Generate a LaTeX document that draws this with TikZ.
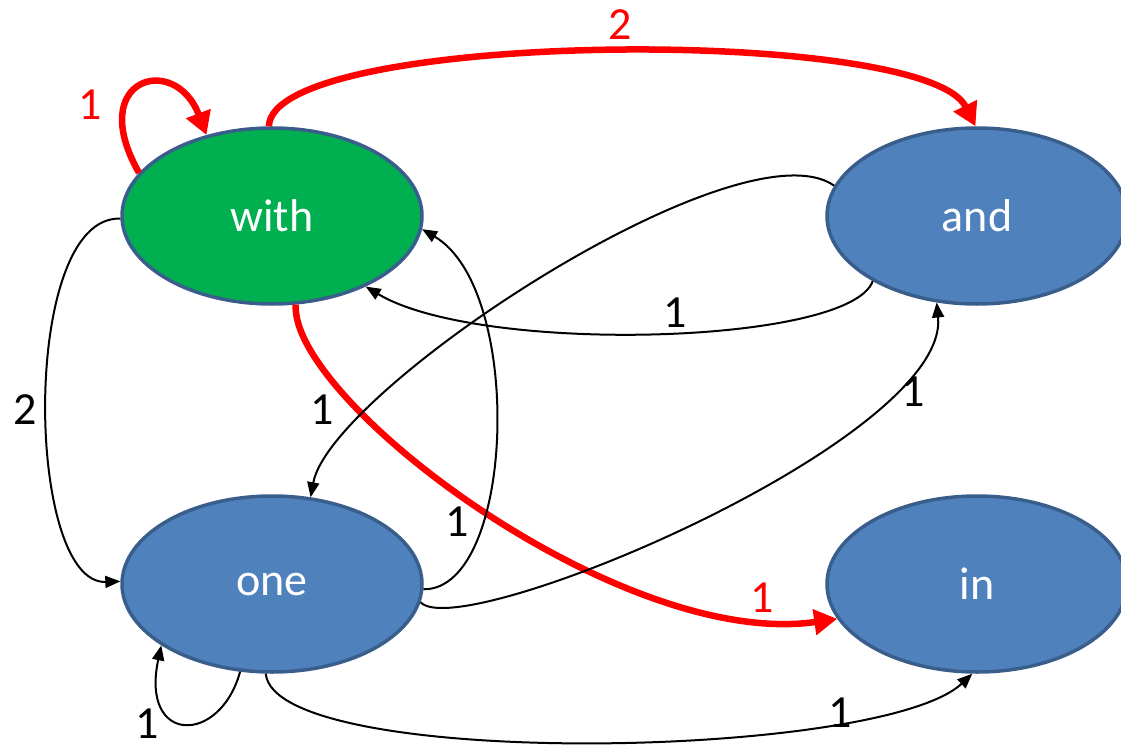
\documentclass[tikz,border=0pt]{standalone}
\usepackage{fontspec}
\setmainfont{Carlito}
\usetikzlibrary{shapes.geometric,arrows.meta}
\definecolor{stgreen}{HTML}{00B050}
\definecolor{stblue}{HTML}{4F81BD}
\definecolor{stborder}{HTML}{3A5E8C}
\definecolor{stred}{HTML}{FF0000}
\tikzset{
  state/.style={ellipse, draw=stborder, line width=3.5pt, fill=stblue, text=white,
    minimum width=300pt, minimum height=176pt, inner sep=0pt,
    font=\fontsize{46}{50}\selectfont},
  startstate/.style={state, fill=stgreen},
  blackedge/.style={draw=black, line width=2pt, -{Triangle[length=15pt,width=12pt]}},
  rededge/.style={draw=stred, line width=6.5pt, -{Triangle[length=23pt,width=25pt]}},
  lbl/.style={font=\fontsize{46}{50}\selectfont, inner sep=0pt, text=black},
  redlbl/.style={lbl, text=stred}
}
\begin{document}
\begin{tikzpicture}[x=1pt,y=-1pt]
\useasboundingbox (0,0) rectangle (1121,749);
\clip (0,0) rectangle (1121,749);

\node[startstate] (with) at (272,216) {with};
\node[state] (and) at (977,216) {and};
\node[state] (one) at (272,584) {one};
\node[state] (in) at (977,584) {in};

% red edges
\draw[rededge] (with.162) .. controls (85,78) and (175,52) .. (with.129);
\draw[rededge] (with.92.6) .. controls (272,30) and (925,25) .. (and.91);
\draw[rededge] (with.285) .. controls (290,400) and (620,650) .. (in.194);

% black edges
\draw[blackedge] (with.181) .. controls (20,215) and (25,585) .. (one.179);
\draw[blackedge] (and.212.6) .. controls (850,345) and (480,355) .. (with.323.7);
\draw[blackedge] (and.168) .. controls (740,120) and (330,390) .. (one.66.3);
\draw[blackedge] (one.-2.7) .. controls (515,590) and (525,290) .. (with.355.8);
\draw[blackedge] (one.-7.3) .. controls (460,645) and (950,440) .. (and.245.7);
\draw[blackedge] (one.250.2) .. controls (220,745) and (140,745) .. (one.209.8);
\draw[blackedge] (one.266) .. controls (275,770) and (880,760) .. (in.267.5);

% labels
\node[redlbl] (l1) at (90,105) {1};
\node[redlbl] (l2) at (620,25) {2};
\node[redlbl] (l3) at (762,598) {1};
\node[lbl] (l4) at (25,410) {2};
\node[lbl] (l5) at (675,313) {1};
\node[lbl] (l6) at (322,410) {1};
\node[lbl] (l7) at (457,522) {1};
\node[lbl] (l8) at (913,392) {1};
\node[lbl] (l9) at (147,724) {1};
\node[lbl] (l10) at (840,713) {1};
\end{tikzpicture}
\end{document}
